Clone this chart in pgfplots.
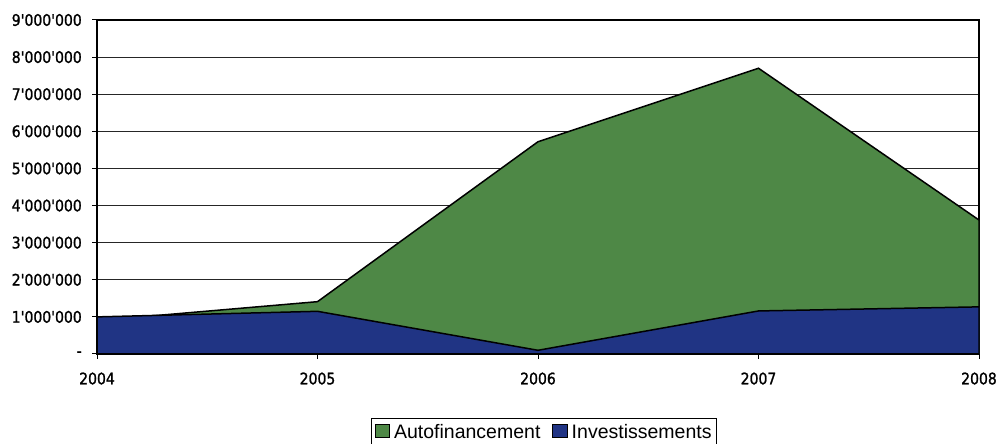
\documentclass[border=0pt]{standalone}
\usepackage{pgfplots}
\pgfplotsset{compat=1.18}
\usepackage{fontspec}
\setmainfont{Liberation Sans}
\newfontfamily\tickfont[FakeStretch=0.88,FakeBold=1.3,Ligatures=TeXOff]{DejaVu Sans}
\definecolor{autogreen}{RGB}{78,136,70}
\definecolor{invblue}{RGB}{32,52,132}
\begin{document}
\begin{tikzpicture}
\path[use as bounding box] (0,0) rectangle (1001pt,444pt);
\begin{axis}[
  at={(97pt,90pt)}, anchor=south west,
  scale only axis, width=882pt, height=334pt,
  xmin=2004, xmax=2008, ymin=0, ymax=9000000,
  xtick={2004,2005,2006,2007,2008},
  xticklabels={2004,2005,2006,2007,2008},
  ytick={0,1000000,2000000,3000000,4000000,5000000,6000000,7000000,8000000,9000000},
  yticklabels={{-\hspace{19pt}},1'000'000,2'000'000,3'000'000,4'000'000,5'000'000,6'000'000,7'000'000,8'000'000,9'000'000},
  scaled y ticks=false,
  tick align=outside, tick pos=left, major tick length=5pt,
  tick style={black, line width=1pt},
  ymajorgrids, major grid style={black!85, line width=0.9pt},
  axis line style={black, line width=1.3pt},
  tick label style={font=\tickfont\fontsize{15.9}{18}\selectfont},
  yticklabel style={xshift=-6.7pt},
  xticklabel style={yshift=-10pt},
  legend style={at={(0.507,-0.192)}, anchor=north, legend columns=2,
    draw=black, line width=0.8pt, inner xsep=3pt, inner ysep=4pt,
    font=\fontsize{19.5}{22}\selectfont,
    /tikz/every odd column/.append style={column sep=2pt},
    /tikz/every even column/.append style={column sep=10pt}},
  legend image code/.code={\draw[#1, draw=black, line width=0.8pt] (0pt,-5.5pt) rectangle (14.5pt,8.3pt);},
]
\addplot[fill=autogreen, draw=black, line width=1.5pt]
  coordinates {(2004,900000) (2005,1410000) (2006,5720000) (2007,7700000) (2008,3610000)} \closedcycle;
\addplot[fill=invblue, draw=black, line width=1.5pt]
  coordinates {(2004,1000000) (2005,1150000) (2006,100000) (2007,1160000) (2008,1270000)} \closedcycle;
\legend{Autofinancement, Investissements}
\end{axis}
\end{tikzpicture}
\end{document}
